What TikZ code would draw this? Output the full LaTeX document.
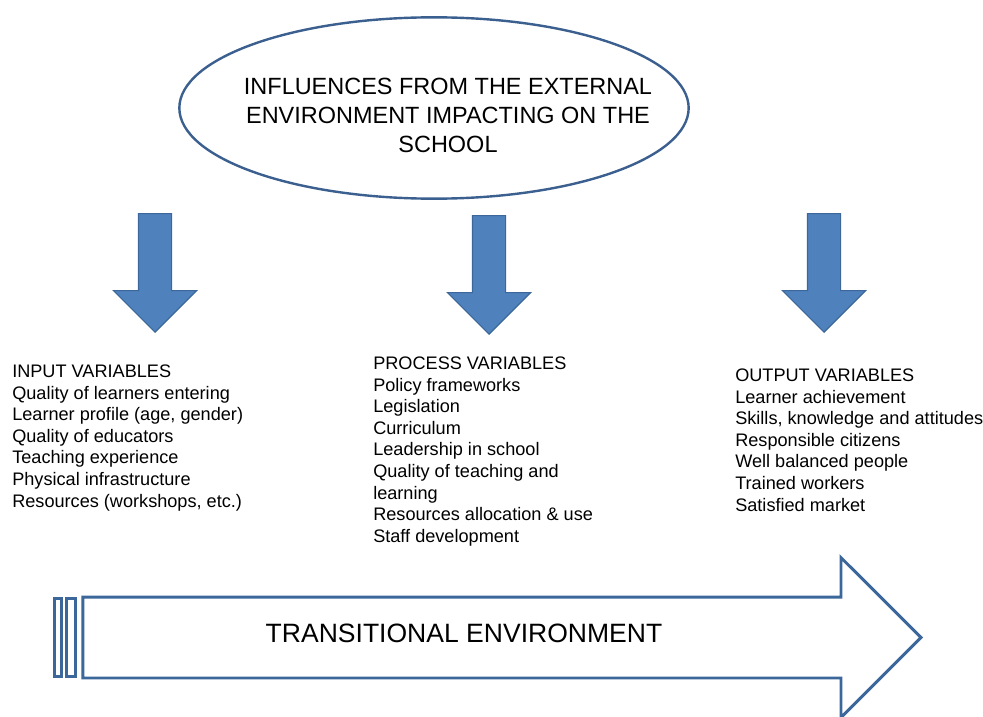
\documentclass[tikz,border=0pt]{standalone}
\usepackage{fontspec}
\setmainfont{Liberation Sans}
\usetikzlibrary{shapes.geometric,shapes.arrows}
\definecolor{arrowblue}{HTML}{4F81BD}
\definecolor{arrowedge}{HTML}{3C679A}
\definecolor{ringblue}{HTML}{3B5F8F}
\tikzset{
  downarrow/.style={single arrow, rotate=-90, anchor=tip, draw=arrowedge, fill=arrowblue,
    line width=0.8pt, inner xsep=0pt, inner ysep=12pt, minimum height=89pt,
    minimum width=61.5pt, single arrow head extend=18.75pt, single arrow tip angle=90},
  vartext/.style={anchor=north west, align=left, inner sep=0pt,
    font=\fontsize{13.6pt}{16.2pt}\selectfont},
  bar/.style={draw=arrowedge, line width=2.2pt, inner sep=0pt, minimum height=58.5pt},
}
\begin{document}
\begin{tikzpicture}[x=0.75pt,y=-0.75pt]
  \useasboundingbox (0,0) rectangle (983,717);
  % outside influences
  \node[ellipse, draw=ringblue, line width=1.8pt, inner sep=0pt,
    minimum width=382pt, minimum height=136pt] (ext) at (434,108) {};
  \node[align=center, font=\fontsize{17.6pt}{21.75pt}\selectfont] (extText) at (448,115)
    {INFLUENCES FROM THE EXTERNAL\\ENVIRONMENT IMPACTING ON THE\\SCHOOL};
  % the three arrows
  \node[downarrow] (arrIn) at (155,333) {};
  \node[downarrow] (arrProc) at (489,335) {};
  \node[downarrow] (arrOut) at (824,333) {};
  % variables
  \node[vartext] (input) at (12,364.5) {INPUT VARIABLES\\Quality of learners entering\\Learner profile (age, gender)\\Quality of educators\\Teaching experience\\Physical infrastructure\\Resources (workshops, etc.)};
  \node[vartext] (process) at (373,356.5) {PROCESS VARIABLES\\Policy frameworks\\Legislation\\Curriculum\\Leadership in school\\Quality of teaching and\\learning\\Resources allocation \& use\\Staff development};
  \node[vartext] (output) at (735,368.5) {OUTPUT VARIABLES\\Learner achievement\\Skills, knowledge and attitudes\\Responsible citizens\\Well balanced people\\Trained workers\\Satisfied market};
  % transitional environment
  \node[single arrow, anchor=tip, draw=arrowedge, fill=white, line width=2.2pt, inner xsep=0pt,
    inner ysep=29.25pt, minimum height=628.5pt, minimum width=117.75pt,
    single arrow head extend=29.6pt, single arrow tip angle=90] (trans) at (923,637.5) {};
  \node[bar, minimum width=5.25pt] (bar1) at (58.25,637.5) {};
  \node[bar, minimum width=6.75pt] (bar2) at (71,637.5) {};
  \node[font=\fontsize{19.9pt}{24pt}\selectfont] (transText) at (464,633) {TRANSITIONAL ENVIRONMENT};
\end{tikzpicture}
\end{document}
